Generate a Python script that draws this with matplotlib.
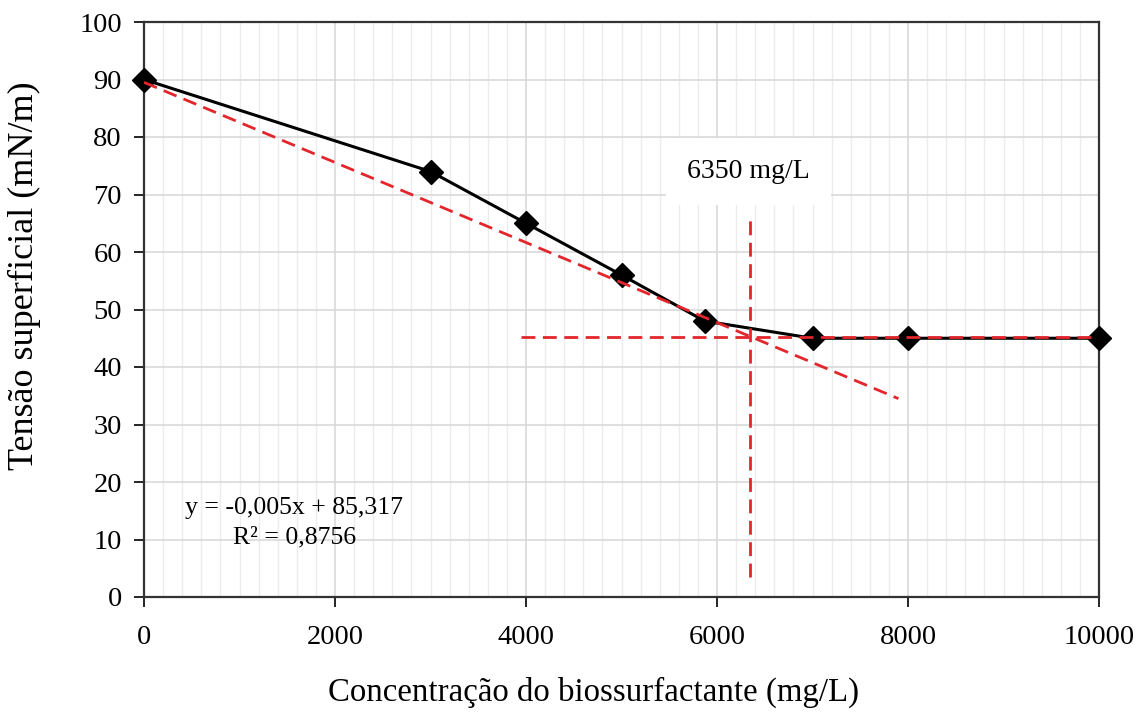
import numpy as np
import matplotlib
matplotlib.use("Agg")
import matplotlib.pyplot as plt
from matplotlib.ticker import MultipleLocator

# measured surface tension
conc = [0, 3000, 4000, 5000, 5870, 7000, 8000, 10000]
tension = [90, 74, 65, 56, 48, 45, 45, 45]

# guide lines as drawn in the original
trend_x = [0, 7900]
trend_y = [89.5, 34.5]
plateau_x = [3950, 10000]
plateau_y = [45.2, 45.2]
cmc_x = [6350, 6350]
cmc_y = [3.5, 66]

plt.rcParams["font.family"] = ["Liberation Serif", "DejaVu Serif"]

W, H = 1144, 716
fig = plt.figure(figsize=(W / 100, H / 100), dpi=100)
ax = fig.add_axes([144 / W, 1 - 597 / H, 955 / W, 575 / H])

red = "#e3262c"
ax.plot(conc, tension, color="black", lw=2.2, marker="D", ms=12.5,
        mfc="black", mec="black", zorder=4, clip_on=False)
for xs, ys in [(trend_x, trend_y), (plateau_x, plateau_y), (cmc_x, cmc_y)]:
    ax.plot(xs, ys, color=red, lw=2.0, dashes=(5, 2.7), zorder=5)

ax.text(6330, 74.0, "6350 mg/L", fontsize=20, ha="center", va="center", zorder=6,
        bbox=dict(facecolor="white", edgecolor="none", pad=15))
ax.text(1574, 15.4, "y = -0,005x + 85,317", fontsize=18.5, ha="center", va="center")
ax.text(1574, 10.4, "R² = 0,8756", fontsize=18.5, ha="center", va="center")

ax.set_xlim(0, 10000)
ax.set_ylim(0, 100)
ax.xaxis.set_major_locator(MultipleLocator(2000))
ax.xaxis.set_minor_locator(MultipleLocator(200))
ax.yaxis.set_major_locator(MultipleLocator(10))
ax.grid(which="major", color="#d6d6d6", lw=1.1, zorder=0)
ax.grid(which="minor", axis="x", color="#ececec", lw=1.0, zorder=0)
ax.set_axisbelow(True)
ax.tick_params(which="major", direction="out", length=7, width=1.2, labelsize=20.5)
ax.tick_params(axis="x", pad=13)
ax.tick_params(axis="y", pad=9)
ax.tick_params(which="minor", length=0)
for s in ax.spines.values():
    s.set_color("#333333")
    s.set_linewidth(1.6)

fig.text(594 / W, 1 - 692 / H, "Concentração do biossurfactante (mg/L)",
         fontsize=23.7, ha="center", va="center")
fig.text(24 / W, 1 - 276 / H, "Tensão superficial (mN/m)",
         fontsize=26, ha="center", va="center", rotation=90)

fig.savefig("out.png", dpi=100)
